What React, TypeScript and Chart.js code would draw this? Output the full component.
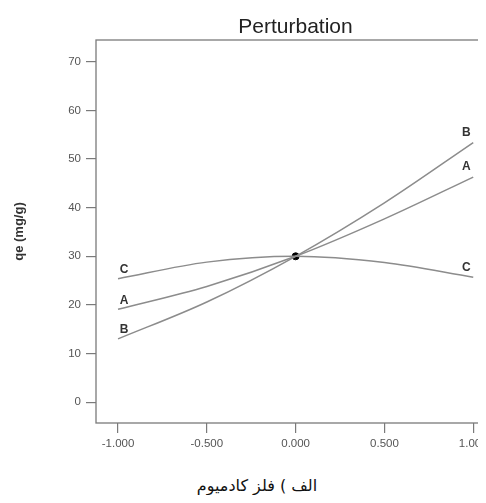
import React, { useEffect, useRef } from "react";
import { Chart, registerables } from "chart.js";
Chart.register(...registerables);

const xValues = [-1, -0.5, 0, 0.5, 1];
const seriesA = [19.1, 23.8, 30, 37.7, 46.3];
const seriesB = [13.0, 20.6, 30, 41.0, 53.4];
const seriesC = [25.4, 28.8, 30, 28.7, 25.7];
const seriesNames = ["A", "B", "C"];
const centerPoint = { x: 0, y: 30 };
const yTicks = [0, 10, 20, 30, 40, 50, 60, 70];
const xTicks = [-1, -0.5, 0, 0.5, 1];
const chartTitle = "Perturbation";
const yAxisTitle = "qe (mg/g)";
const caption = "الف ) فلز کادمیوم";

const LINE_COLOR = "#8c8c8c";
const FRAME_COLOR = "#7a7a7a";

const framePlugin = {
  id: "frameAndText",
  beforeDatasetsDraw(chart: any) {
    const { ctx, chartArea } = chart;
    ctx.save();
    ctx.strokeStyle = FRAME_COLOR;
    ctx.lineWidth = 1.3;
    ctx.strokeRect(chartArea.left, chartArea.top, chartArea.right - chartArea.left, chartArea.bottom - chartArea.top);
    ctx.restore();
  },
  afterDraw(chart: any) {
    const { ctx, chartArea, scales } = chart;
    ctx.save();
    ctx.fillStyle = "#222";
    ctx.font = "21px 'Liberation Sans', Arial, sans-serif";
    ctx.textAlign = "center";
    ctx.textBaseline = "middle";
    ctx.fillText(chartTitle, (chartArea.left + chartArea.right) / 2 + 2, chartArea.top - 13);
    ctx.fillStyle = "#333";
    ctx.font = "bold 12px 'Liberation Sans', Arial, sans-serif";
    const sets = [seriesA, seriesB, seriesC];
    sets.forEach((vals, i) => {
      const xl = scales.x.getPixelForValue(xValues[0]);
      const yl = scales.y.getPixelForValue(vals[0]);
      ctx.fillText(seriesNames[i], xl + 6, yl - 9);
      const xr = scales.x.getPixelForValue(xValues[xValues.length - 1]);
      const yr = scales.y.getPixelForValue(vals[vals.length - 1]);
      ctx.fillText(seriesNames[i], xr - 7, yr - 10);
    });
    ctx.restore();
  },
};

export default function App() {
  const ref = useRef<HTMLCanvasElement | null>(null);
  useEffect(() => {
    document.body.style.overflow = "hidden";
    document.documentElement.style.overflow = "hidden";
    const mk = (vals: number[]) => xValues.map((x, i) => ({ x, y: vals[i] }));
    const lineDs = (vals: number[], label: string) => ({
      type: "line" as const,
      label,
      data: mk(vals),
      borderColor: LINE_COLOR,
      borderWidth: 1.5,
      pointRadius: 0,
      cubicInterpolationMode: "monotone" as const,
      fill: false,
    });
    const chart = new Chart(ref.current as HTMLCanvasElement, {
      type: "line",
      data: {
        datasets: [
          lineDs(seriesA, "A"),
          lineDs(seriesB, "B"),
          lineDs(seriesC, "C"),
          {
            type: "scatter" as const,
            label: "center",
            data: [centerPoint],
            pointRadius: 3.5,
            backgroundColor: "#000",
            borderColor: "#000",
            showLine: false,
          } as any,
        ],
      },
      options: {
        animation: false,
        responsive: false,
        layout: { padding: { left: 0, right: 7, top: 32, bottom: 0 } },
        plugins: { legend: { display: false }, tooltip: { enabled: false }, title: { display: false } },
        scales: {
          x: {
            type: "linear",
            min: -1.124,
            max: 1.1,
            afterBuildTicks: (s: any) => {
              s.ticks = xTicks.map((v) => ({ value: v }));
            },
            afterFit: (s: any) => {
              s.height = 35;
            },
            ticks: {
              callback: (v: any) => Number(v).toFixed(3),
              font: { family: "'Liberation Sans', Arial, sans-serif", size: 11.5 },
              color: "#555",
              padding: 4,
              maxRotation: 0,
              autoSkip: false,
            },
            grid: { drawOnChartArea: false, drawTicks: true, tickLength: 10, color: FRAME_COLOR, lineWidth: 1.2 },
            border: { display: false },
          },
          y: {
            type: "linear",
            min: -4.3,
            max: 74.5,
            afterBuildTicks: (s: any) => {
              s.ticks = yTicks.map((v) => ({ value: v }));
            },
            afterFit: (s: any) => {
              s.width = 88;
            },
            ticks: {
              font: { family: "'Liberation Sans', Arial, sans-serif", size: 11.5 },
              color: "#555",
              padding: 5,
            },
            grid: { drawOnChartArea: false, drawTicks: true, tickLength: 10, color: FRAME_COLOR, lineWidth: 1.2 },
            border: { display: false },
            title: {
              display: true,
              text: yAxisTitle,
              color: "#333",
              font: { family: "'Liberation Sans', Arial, sans-serif", size: 13, weight: "bold" },
              padding: { top: 4, bottom: 0 },
            },
          },
        },
      } as any,
      plugins: [framePlugin],
    });
    return () => chart.destroy();
  }, []);

  return (
    <div style={{ position: "relative", width: 478, height: 487 }}>
      <div style={{ width: 478, height: 450, overflow: "hidden" }}>
        <canvas ref={ref} width={490} height={450} style={{ width: 490, height: 450, display: "block" }} />
      </div>
      <div
        dir="rtl"
        style={{
          position: "absolute",
          left: 0,
          width: 498,
          top: 467,
          textAlign: "center",
          fontFamily: "'DejaVu Sans', sans-serif",
          fontSize: 16,
          lineHeight: "22px",
          color: "#111",
          whiteSpace: "nowrap",
        }}
      >
        {caption}
      </div>
    </div>
  );
}
